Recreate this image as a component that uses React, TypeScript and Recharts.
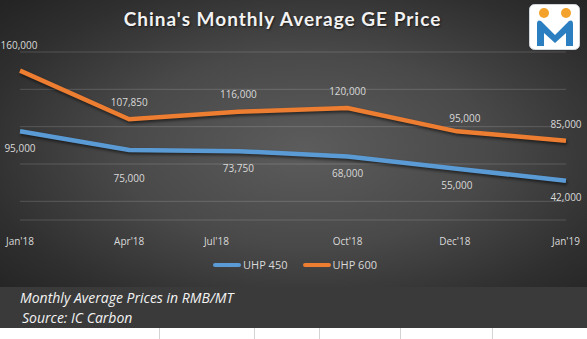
import { LineChart, Line, XAxis, YAxis, CartesianGrid, Legend } from 'recharts'

const months = ["Jan'18", "Apr'18", "Jul'18", "Oct'18", "Dec'18", "Jan'19"]
const uhp450 = [95000, 75000, 73750, 68000, 55000, 42000]
const uhp600 = [160000, 107850, 116000, 120000, 95000, 85000]
const yTicks = [0, 20000, 40000, 60000, 80000, 100000, 120000, 140000, 160000, 180000]

const chartData = months.map((month, i) => ({
  month,
  uhp450: uhp450[i],
  uhp600: uhp600[i],
}))

const BLUE = '#5b9bd5'
const ORANGE = '#ed7d31'
const LABEL_COLOR = '#d9d9d9'
const FONT = '"Open Sans", sans-serif'

// small per-point nudges so labels sit where the original put them
const nudge600 = [-8, 0, 0, 0, 4, 1]
const nudge450 = [0, 11, 0, 0, 0, 0]
const nudge600x = [-1, 0, 0, 0, 8, 0]
const tickNudge: Record<string, number> = { "Jul'18": -22, "Dec'18": -2 }

const fmt = (v: number) => v.toLocaleString('en-US')

function makeLabel(base: number, dyList: number[], dxList?: number[]) {
  return (props: any) => {
    const { x, y, value, index } = props
    return (
      <text
        x={x + (dxList ? dxList[index] : 0)}
        y={y + base + dyList[index]}
        dy="0.35em"
        textAnchor="middle"
        fill={LABEL_COLOR}
        fontSize={10}
        fontFamily={FONT}
      >
        {fmt(value)}
      </text>
    )
  }
}

function MonthTick(props: any) {
  const { x, y, payload } = props
  return (
    <text
      x={x + (tickNudge[payload.value] ?? 0)}
      y={y}
      dy="0.35em"
      textAnchor="middle"
      fill={LABEL_COLOR}
      fontSize={10}
      fontFamily={FONT}
    >
      {payload.value}
    </text>
  )
}

function LegendBox() {
  const items = [
    { name: 'UHP 450', color: BLUE },
    { name: 'UHP 600', color: ORANGE },
  ]
  return (
    <div style={{ display: 'flex', justifyContent: 'center', gap: 15, paddingLeft: 4 }}>
      {items.map((it) => (
        <div key={it.name} style={{ display: 'flex', alignItems: 'center' }}>
          <span style={{ width: 28, height: 4, borderRadius: 2, background: it.color, marginRight: 2 }} />
          <span style={{ color: LABEL_COLOR, fontSize: 11, fontFamily: FONT }}>{it.name}</span>
        </div>
      ))}
    </div>
  )
}

function Logo() {
  return (
    <svg width={51} height={46} style={{ position: 'absolute', left: 529, top: 4 }}>
      <rect x={0.5} y={0.5} width={50} height={45} rx={5} fill="#ffffff" stroke="#cfd6dc" />
      <circle cx={15} cy={9} r={5} fill="#f3a32b" />
      <circle cx={37} cy={9} r={5} fill="#f3a32b" />
      <path
        d="M8 42 L8 20 Q8 15 12 17 L26 31 L40 17 Q44 15 44 20 L44 42 L37 42 L37 29 L26 39 L15 29 L15 42 Z"
        fill="#2b7fc1"
      />
    </svg>
  )
}

export default function App() {
  return (
    <div style={{ position: 'fixed', left: 0, top: 0, width: 587, height: 339, background: '#ffffff', overflow: 'hidden' }}>
      <style>{`.recharts-line-curve { filter: drop-shadow(1px 2px 1.5px rgba(0,0,0,0.55)); }`}</style>
      <div
        style={{
          position: 'absolute',
          left: 0,
          top: 0,
          width: 587,
          height: 287,
          background: 'radial-gradient(ellipse 70% 75% at 52% 52%, #5c5c5c 0%, #494949 45%, #2f2f2f 80%, #242424 100%)',
        }}
      >
        <div
          style={{
            position: 'absolute',
            left: 0,
            width: 565,
            top: 7,
            textAlign: 'center',
            color: '#f2f2f2',
            fontFamily: 'Lato, sans-serif',
            fontWeight: 700,
            fontSize: 19,
            letterSpacing: 1,
            textShadow: '1px 1px 2px rgba(0,0,0,0.6)',
          }}
        >
          China's Monthly Average GE Price
        </div>
        <Logo />
        <LineChart width={587} height={287} data={chartData} margin={{ top: 52, right: 21, left: 20, bottom: 0 }}>
          <CartesianGrid horizontal vertical={false} stroke="rgba(255,255,255,0.16)" />
          <XAxis
            dataKey="month"
            height={30}
            axisLine={false}
            tickLine={false}
            tick={<MonthTick />}
            tickMargin={15}
            interval={0}
          />
          <YAxis hide domain={[0, 180000]} ticks={yTicks} />
          <Legend verticalAlign="bottom" height={30} content={<LegendBox />} wrapperStyle={{ paddingTop: 7 }} />
          <Line
            dataKey="uhp450"
            name="UHP 450"
            stroke={BLUE}
            strokeWidth={4.5}
            dot={false}
            activeDot={false}
            isAnimationActive={false}
            label={makeLabel(17, nudge450)}
          />
          <Line
            dataKey="uhp600"
            name="UHP 600"
            stroke={ORANGE}
            strokeWidth={4.5}
            dot={false}
            activeDot={false}
            isAnimationActive={false}
            label={makeLabel(-17, nudge600, nudge600x)}
          />
        </LineChart>
      </div>
      <div
        style={{
          position: 'absolute',
          left: 0,
          top: 287,
          width: 587,
          height: 41,
          background: '#3a3a3a',
          color: '#f2f2f2',
          fontFamily: FONT,
          fontStyle: 'italic',
          fontSize: 14,
        }}
      >
        <div style={{ position: 'absolute', left: 20, top: 1 }}>Monthly Average Prices in RMB/MT</div>
        <div style={{ position: 'absolute', left: 22, top: 21 }}>Source: IC Carbon</div>
      </div>
      {[159, 254, 319, 400, 492].map((x) => (
        <div key={x} style={{ position: 'absolute', left: x, top: 328, width: 1, height: 11, background: '#d4d4d4' }} />
      ))}
    </div>
  )
}
